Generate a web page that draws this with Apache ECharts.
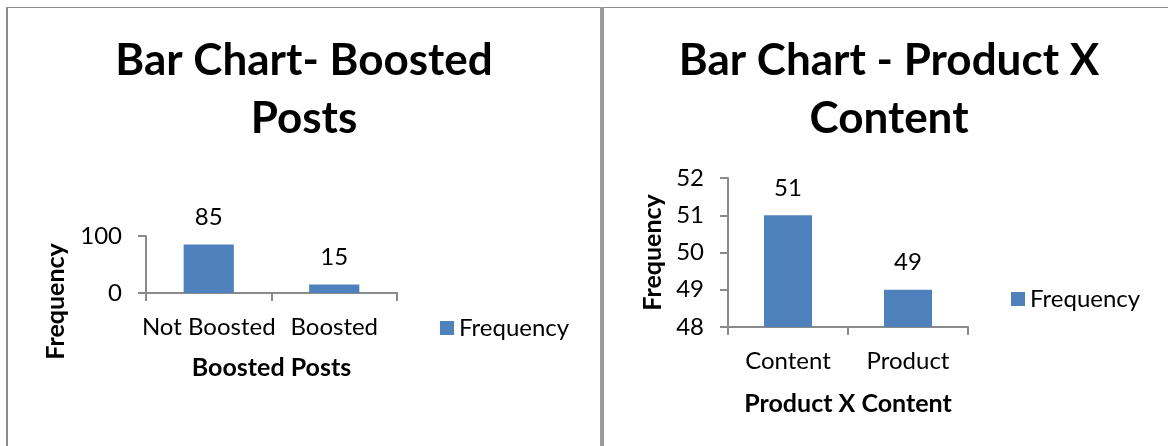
<!DOCTYPE html>
<html>
<head>
<meta charset="utf-8">
<script src="https://cdn.jsdelivr.net/npm/echarts@6/dist/echarts.min.js"></script>
<style>
  html, body { margin: 0; padding: 0; background: #ffffff; }
  #chart { width: 1168px; height: 446px; }
</style>
</head>
<body>
<div id="chart"></div>
<script>
// Boosted posts panel
const boostedCategories = ['Not Boosted', 'Boosted'];
const boostedValues = [85, 15];
const boostedTicks = { min: 0, max: 100, interval: 100 };

// Product vs content panel
const productCategories = ['Content', 'Product'];
const productValues = [51, 49];
const productTicks = { min: 48, max: 52, interval: 1 };

const seriesName = 'Frequency';
const titles = ['Bar Chart- Boosted\nPosts', 'Bar Chart - Product X\nContent'];
const xNames = ['Boosted Posts', 'Product X Content'];
const yName = 'Frequency';

const FONT = 'Lato, "Open Sans", sans-serif';
const BAR = '#4F81BD';
const AXIS = '#8a8a8a';
const TXT = '#000000';
const FS = 24;       // regular text size
const FS_BOLD = 25;  // axis names

const chart = echarts.init(document.getElementById('chart'), null, { renderer: 'canvas' });

function xAxisFor(idx, cats, name, gap) {
  return {
    type: 'category', gridIndex: idx, data: cats,
    name: name, nameLocation: 'middle', nameGap: gap,
    nameTextStyle: { fontFamily: FONT, fontSize: FS_BOLD, fontWeight: 'bold', color: TXT },
    axisLine: { lineStyle: { color: AXIS, width: 2 } },
    axisTick: { show: true, length: 8, lineStyle: { color: AXIS, width: 2 } },
    axisLabel: { margin: 22, fontFamily: FONT, fontSize: FS, color: TXT, interval: 0 }
  };
}

function yAxisFor(idx, ticks, gap, pad) {
  return {
    type: 'value', gridIndex: idx,
    min: ticks.min, max: ticks.max, interval: ticks.interval,
    name: yName, nameLocation: 'middle', nameGap: gap, nameRotate: 90,
    nameTextStyle: { fontFamily: FONT, fontSize: FS_BOLD, fontWeight: 'bold', color: TXT, padding: pad },
    axisLine: { show: true, lineStyle: { color: AXIS, width: 2 } },
    axisTick: { show: true, length: 8, lineStyle: { color: AXIS, width: 2 } },
    splitLine: { show: false },
    axisLabel: { margin: 24, fontFamily: FONT, fontSize: FS, color: TXT }
  };
}

function barSeries(idx, values) {
  return {
    type: 'bar', name: seriesName, xAxisIndex: idx, yAxisIndex: idx,
    data: values, barWidth: '40%',
    itemStyle: { color: BAR },
    label: { show: true, position: 'top', distance: 15, fontFamily: FONT, fontSize: FS, color: TXT }
  };
}

const titleStyle = { fontFamily: FONT, fontSize: 44, fontWeight: 'bold', color: TXT, lineHeight: 58 };

chart.setOption({
  animation: false,
  backgroundColor: '#ffffff',
  title: [
    { text: titles[0], left: 299, top: 27, textAlign: 'center', textStyle: titleStyle },
    { text: titles[1], left: 884, top: 27, textAlign: 'center', textStyle: titleStyle }
  ],
  legend: [
    { data: [seriesName], left: 440, top: 316, padding: 0, itemWidth: 14, itemHeight: 14, itemGap: 7,
      icon: 'rect', textStyle: { fontFamily: FONT, fontSize: FS, color: TXT } },
    { data: [seriesName], left: 1011, top: 287, padding: 0, itemWidth: 14, itemHeight: 14, itemGap: 7,
      icon: 'rect', textStyle: { fontFamily: FONT, fontSize: FS, color: TXT } }
  ],
  grid: [
    { left: 146, top: 236, width: 251, height: 57, containLabel: false },
    { left: 728, top: 178, width: 240, height: 149, containLabel: false }
  ],
  xAxis: [xAxisFor(0, boostedCategories, xNames[0], 62), xAxisFor(1, productCategories, xNames[1], 64)],
  yAxis: [yAxisFor(0, boostedTicks, 78, [0, 74, 0, 0]), yAxisFor(1, productTicks, 63, 0)],
  series: [barSeries(0, boostedValues), barSeries(1, productValues)],
  graphic: [
    // page frame: top rule, left rule and the divider between the two panels
    { type: 'rect', shape: { x: 6, y: 7, width: 1162, height: 1 }, style: { fill: '#8c8c8c' }, silent: true },
    { type: 'rect', shape: { x: 6, y: 7, width: 2, height: 439 }, style: { fill: '#8c8c8c' }, silent: true },
    { type: 'rect', shape: { x: 600, y: 7, width: 4, height: 439 }, style: { fill: '#9a9a9a' }, silent: true }
  ]
});
</script>
</body>
</html>
